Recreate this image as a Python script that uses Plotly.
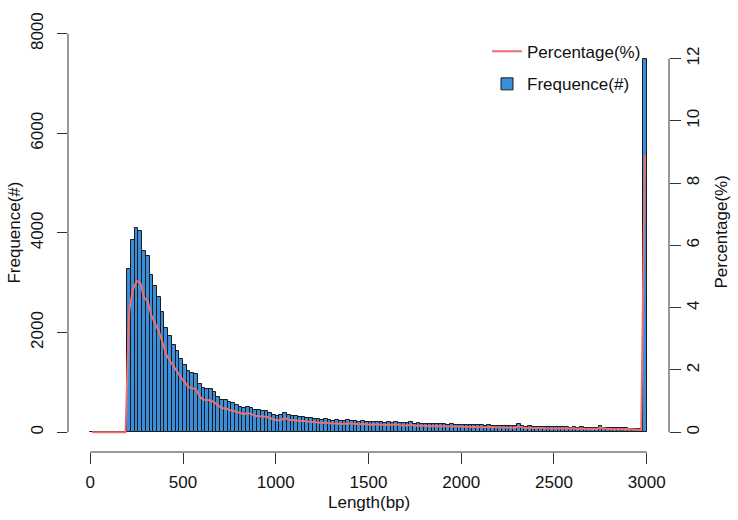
import plotly.graph_objects as go

# ---- data ----
bin_width = 20
bin_starts = list(range(0, 3000, bin_width))          # 150 bins, 0..2980
counts = (
    [0] * 10 +                                          # 0-200 bp: empty
    [3280, 3860, 4090, 4040, 3645, 3545, 3150, 2930, 2720, 2420,
     2100, 1925, 1760, 1630, 1475, 1340, 1220, 1190, 1160] +
    [966, 880, 870, 860, 800, 714, 648, 648, 602, 582,
     556, 516, 490, 516, 490, 437, 437, 417, 417, 380, 345] +
    [317, 337, 384, 337, 330, 317, 304, 300, 290, 280,
     270, 265, 250, 265, 240, 235, 245, 230, 225, 240,
     225, 220, 215, 225, 210, 205, 215, 200, 205, 195,
     200, 190, 210, 190, 185, 180, 200, 175, 180, 170,
     175, 165, 170, 160, 165, 160, 155, 160, 150, 155,
     150, 145, 150, 140, 145, 140, 135, 140, 130, 135,
     130, 125, 130, 125, 120, 160, 125, 115, 120, 115,
     110, 115, 110, 105, 110, 105, 100, 105, 100, 95,
     100, 95, 100, 95, 90, 95, 90, 120, 95, 90,
     85, 90, 85, 80, 85, 75, 70, 65, 60,
     7500]
)
assert len(counts) == len(bin_starts)

x_ticks = [0, 500, 1000, 1500, 2000, 2500, 3000]
y_ticks = [0, 2000, 4000, 6000, 8000]
y2_ticks = [0, 2, 4, 6, 8, 10, 12]

mids = [s + bin_width / 2 for s in bin_starts]
total = sum(counts)
percent = [c / total * 100 for c in counts]

FONT = "Liberation Sans, Arial, Helvetica, sans-serif"
FS = 17
AX = "#333333"

fig = go.Figure()
fig.add_trace(go.Bar(
    x=mids, y=counts, width=bin_width,
    marker=dict(color="#3a8fdc", line=dict(color="#1a1a1a", width=1)),
    name="Frequence(#)", legend="legend2", yaxis="y", showlegend=True,
))
fig.add_trace(go.Scatter(
    x=mids, y=percent, mode="lines",
    line=dict(color="#f26d6d", width=2),
    name="Percentage(%)", legend="legend", yaxis="y2", showlegend=True,
))

L, R, T, B = 68, 69, 20, 68
W, H = 738, 520
plot_h = H - T - B
# y pixel 432 -> 0 ; 50.4 px per 1000 ; 31.5 px per 1 %
y_lo = -(452 - 432) / 0.0504
y_hi = (432 - T) / 0.0504
y2_lo = -(452 - 432) / 31.5
y2_hi = (432 - T) / 31.5

common = dict(showgrid=False, zeroline=False, showline=False,
              ticks="outside", tickcolor=AX, tickwidth=1,
              tickfont=dict(family=FONT, size=FS, color="#111"))

fig.update_layout(
    width=W, height=H, autosize=False, showlegend=True,
    margin=dict(l=L, r=R, t=T, b=B),
    paper_bgcolor="white", plot_bgcolor="white",
    font=dict(family=FONT, size=FS, color="#111"),
    bargap=0,
    xaxis=dict(range=[-120, 3120], tickvals=x_ticks, ticklen=11,
               ticklabelstandoff=4, **common),
    yaxis=dict(range=[y_lo, y_hi], tickvals=y_ticks, ticklen=10,
               tickangle=-90, ticklabelstandoff=7, **common),
    yaxis2=dict(range=[y2_lo, y2_hi], tickvals=y2_ticks, ticklen=11,
                tickangle=-90, overlaying="y", side="right",
                ticklabelstandoff=-2, **common),
    legend=dict(x=(487 - L) / (W - L - R), y=(452 - 47) / plot_h,
                xanchor="left", yanchor="middle", bgcolor="rgba(0,0,0,0)",
                font=dict(family=FONT, size=FS, color="#111")),
    legend2=dict(x=(487 - L) / (W - L - R), y=(452 - 80) / plot_h,
                 xanchor="left", yanchor="middle", bgcolor="rgba(0,0,0,0)",
                 font=dict(family=FONT, size=FS, color="#111")),
    shapes=[
        dict(type="line", xref="x", yref="paper", x0=0, x1=3000, y0=0, y1=0,
             line=dict(color=AX, width=1)),
        dict(type="line", xref="paper", yref="y", x0=0, x1=0, y0=0, y1=8000,
             line=dict(color=AX, width=1)),
        dict(type="line", xref="paper", yref="y2", x0=1, x1=1, y0=0, y1=12,
             line=dict(color=AX, width=1)),
    ],
    annotations=[
        dict(text="Length(bp)", xref="x", yref="paper", x=1500,
             y=(452 - 503) / plot_h, xanchor="center", yanchor="middle",
             showarrow=False, font=dict(family=FONT, size=FS, color="#111")),
        dict(text="Frequence(#)", xref="paper", yref="paper",
             x=(15 - L) / (W - L - R), y=(452 - 230) / plot_h, textangle=-90,
             xanchor="center", yanchor="middle", showarrow=False,
             font=dict(family=FONT, size=FS, color="#111")),
        dict(text="Percentage(%)", xref="paper", yref="paper",
             x=(722 - L) / (W - L - R), y=(452 - 230) / plot_h, textangle=-90,
             xanchor="center", yanchor="middle", showarrow=False,
             font=dict(family=FONT, size=FS, color="#111")),
    ],
)

fig.write_html("out.html")
